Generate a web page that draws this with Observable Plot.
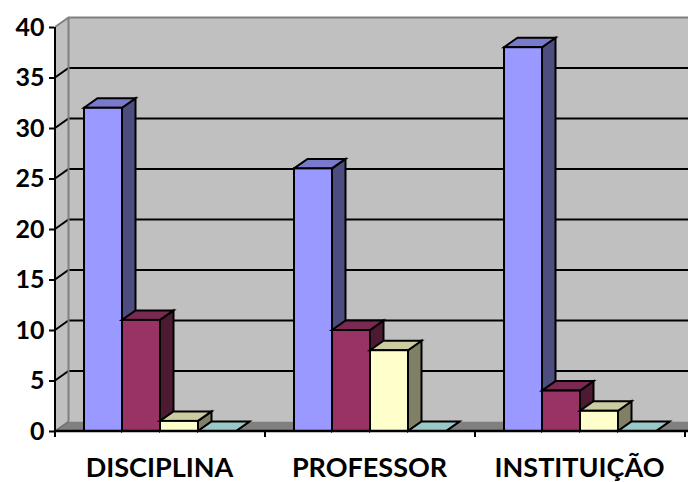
<!DOCTYPE html>
<html>
<head>
<meta charset="utf-8">
<script src="https://cdn.jsdelivr.net/npm/d3@7"></script>
<script src="https://cdn.jsdelivr.net/npm/@observablehq/plot@0.6"></script>
<style>
  html, body { margin: 0; padding: 0; background: #ffffff; }
  #chart svg { display: block; }
</style>
</head>
<body>
<div id="chart"></div>
<script>
// Categories along the x axis
const categories = ["DISCIPLINA", "PROFESSOR", "INSTITUIÇÃO"];

// Series (one value per category)
const seriesNames = ["Série 1", "Série 2", "Série 3", "Série 4"];
const serie1 = [32, 26, 38];
const serie2 = [11, 10, 4];
const serie3 = [1, 8, 2];
const serie4 = [0, 0, 0];

// Y axis ticks
const yTicks = [0, 5, 10, 15, 20, 25, 30, 35, 40];

// Face colours of each series: front, top, side
const frontColors = ["#9999ff", "#993366", "#ffffcc", "#ccffff"];
const topColors   = ["#7a7acc", "#7a2952", "#cccca3", "#99c8c8"];
const sideColors  = ["#4d4d80", "#4d1a33", "#808066", "#668080"];

// Depth offset of the 3D projection (pixels)
const DX = 13.5, DY = -9.5;
const WIDTH = 688, HEIGHT = 482;
const MARGIN = {left: 53, right: 3, top: 27, bottom: 51};

const allSeries = [serie1, serie2, serie3, serie4];
const rows = [];
categories.forEach((c, ci) => {
  seriesNames.forEach((s, si) => rows.push({category: c, series: s, si, value: allSeries[si][ci]}));
});
// one anchor row: the 3D frame is drawn once, in the first facet
const anchorRow = [rows[0]];

const pts = (a) => a.map(p => p.join(",")).join(" ");

// facet band edges, from the fx scale
function facetEdges(scales) {
  const fx = scales.fx;
  if (fx && fx.bandwidth) {
    return categories.map(c => fx(c)).concat([fx(categories[categories.length - 1]) + fx.bandwidth()]);
  }
  const w = (WIDTH - MARGIN.left - MARGIN.right) / categories.length;
  return d3.range(categories.length + 1).map(k => MARGIN.left + k * w);
}

// Walls, floor, gridlines and y axis line of the 3D frame
function frame3d(index, scales) {
  if (!index.length) return null;
  const y = scales.y;
  const L = facetEdges(scales)[0];
  const R = WIDTH;
  const yTop = y(40), y0 = y(0);
  const g = d3.create("svg:g");
  g.append("rect").attr("x", L + DX).attr("y", yTop + DY)
    .attr("width", R - L - DX).attr("height", y0 - yTop).attr("fill", "#c0c0c0");
  g.append("polygon").attr("points", pts([[L, yTop], [L + DX, yTop + DY], [L + DX, y0 + DY], [L, y0]]))
    .attr("fill", "#c0c0c0");
  g.append("polygon").attr("points", pts([[L, y0], [L + DX, y0 + DY], [R, y0 + DY], [R, y0]]))
    .attr("fill", "#808080");
  for (const v of yTicks) {
    if (v === 0 || v === 40) continue;
    g.append("polyline").attr("points", pts([[L, y(v)], [L + DX, y(v) + DY], [R, y(v) + DY]]))
      .attr("fill", "none").attr("stroke", "#000").attr("stroke-width", 2);
  }
  g.append("polyline").attr("points", pts([[L, yTop], [L + DX, yTop + DY], [R, yTop + DY]]))
    .attr("fill", "none").attr("stroke", "#808080").attr("stroke-width", 2);
  g.append("line").attr("x1", L + DX).attr("x2", L + DX).attr("y1", yTop + DY).attr("y2", y0 + DY)
    .attr("stroke", "#808080").attr("stroke-width", 2);
  g.append("line").attr("x1", L).attr("x2", L + DX).attr("y1", y0).attr("y2", y0 + DY)
    .attr("stroke", "#6e6e6e").attr("stroke-width", 1.5);
  g.append("line").attr("x1", L).attr("x2", L).attr("y1", yTop).attr("y2", y0)
    .attr("stroke", "#000").attr("stroke-width", 2);
  return g.node();
}

// Baseline and category separators, drawn above the bars
function baseline(index, scales) {
  if (!index.length) return null;
  const y0 = scales.y(0);
  const edges = facetEdges(scales);
  const g = d3.create("svg:g");
  g.append("line").attr("x1", edges[0]).attr("x2", WIDTH).attr("y1", y0).attr("y2", y0)
    .attr("stroke", "#000").attr("stroke-width", 2.5);
  for (const e of edges) {
    g.append("line").attr("x1", e).attr("x2", e).attr("y1", y0).attr("y2", y0 + 6)
      .attr("stroke", "#000").attr("stroke-width", 2);
  }
  return g.node();
}

// Bars with a top face and a shaded side face
function bars3d(index, scales, values) {
  const bw = scales.x.bandwidth();
  const g = d3.create("svg:g");
  for (const i of index) {
    const si = rows[i].si;
    const x0 = values.x[i], x1 = x0 + bw;
    const yt = Math.min(values.y1[i], values.y2[i]);
    const yb = Math.max(values.y1[i], values.y2[i]);
    const b = g.append("g").attr("stroke", "#000").attr("stroke-width", 2);
    b.append("polygon").attr("points", pts([[x1, yt], [x1 + DX, yt + DY], [x1 + DX, yb + DY], [x1, yb]]))
      .attr("fill", sideColors[si]);
    b.append("polygon").attr("points", pts([[x0, yt], [x0 + DX, yt + DY], [x1 + DX, yt + DY], [x1, yt]]))
      .attr("fill", topColors[si]);
    b.append("rect").attr("x", x0).attr("y", yt).attr("width", bw).attr("height", yb - yt)
      .attr("fill", values.fill ? values.fill[i] : frontColors[si]);
  }
  return g.node();
}

const chart = Plot.plot({
  width: WIDTH,
  height: HEIGHT,
  marginLeft: MARGIN.left,
  marginRight: MARGIN.right,
  marginTop: MARGIN.top,
  marginBottom: MARGIN.bottom,
  style: {fontFamily: "Lato, 'Open Sans', sans-serif", background: "#ffffff", color: "#000", overflow: "visible"},
  fx: {domain: categories, padding: 0, label: null},
  x: {domain: seriesNames, paddingInner: 0, paddingOuter: 0.76, align: 0.52, axis: null},
  y: {domain: [0, 40], label: null},
  color: {domain: seriesNames, range: frontColors},
  marks: [
    Plot.barY(anchorRow, {fx: "category", x: "series", y: "value", render: frame3d}),
    Plot.barY(rows, {fx: "category", x: "series", y: "value", fill: "series", render: bars3d}),
    Plot.barY(anchorRow, {fx: "category", x: "series", y: "value", render: baseline}),
    Plot.axisY({ticks: yTicks, tickSize: 5, tickPadding: 5, stroke: "#000", strokeWidth: 2, strokeOpacity: 1, fontSize: 25, fontWeight: "bold", label: null, tickFormat: d => String(d), style: {letterSpacing: "1px"}}),
    Plot.axisFx({anchor: "bottom", tickSize: 0, tickPadding: 26, fontSize: 27, fontWeight: "bold", label: null})
  ]
});

document.getElementById("chart").appendChild(chart);
</script>
</body>
</html>
